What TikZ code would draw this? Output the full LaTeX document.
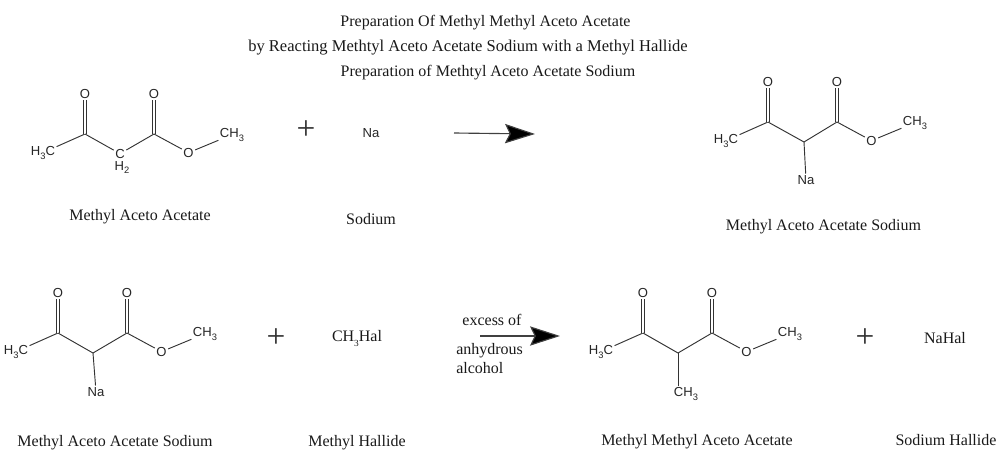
\documentclass[tikz,border=0pt]{standalone}
\usepackage{fontspec}
\setmainfont{Liberation Serif}
\newfontfamily\chemfont{Liberation Sans}
\usetikzlibrary{arrows.meta}
\newcommand{\lowsub}[1]{\raisebox{-0.28em}{\fontsize{7}{8}\selectfont #1}}
\tikzset{
  x=0.75pt,y=-0.75pt,
  caption/.style={font=\fontsize{12}{14}\selectfont,inner sep=0pt,text=black!90,yshift=-0.6pt},
  atom/.style={font=\chemfont\fontsize{9.8}{11}\selectfont,inner sep=1pt,text=black!85,yshift=-0.5pt},
  bond/.style={line width=0.7pt,draw=black!80},
  dbond/.style={line width=0.55pt,draw=black!80,double=white,double distance=1.5pt},
  plussign/.style={font=\fontsize{25}{27}\selectfont,inner sep=0pt,text=black!80,yshift=-1.2pt},
  reaction/.style={line width=0.85pt,draw=black!75,-{Stealth[length=22.5pt,width=14.5pt,inset=3.5pt,fill=black]}},
}
% #1 name prefix, #2 x shift, #3 y shift
\newcommand{\ketoester}[3]{%
  \begin{scope}[shift={(#2,#3)}]
    \node[atom] (#1m) at (43,152) {H\lowsub{3}C};
    \coordinate (#1k) at (85,134);
    \node[atom] (#1ok) at (85,93) {O};
    \coordinate (#1e) at (154,134);
    \node[atom] (#1oe) at (154,93) {O};
    \node[atom] (#1os) at (188.5,152) {O};
    \node[atom] (#1me) at (232,134) {CH\lowsub{3}};
  \end{scope}
  \draw[bond] (#1m) -- (#1k);
  \draw[dbond] (#1k) -- (#1ok);
  \draw[dbond] (#1e) -- (#1oe);
  \draw[bond] (#1e) -- (#1os);
  \draw[bond] (#1os) -- (#1me);
}
\begin{document}
\begin{tikzpicture}
\useasboundingbox (0,0) rectangle (1000,475);
\node[caption] (t1) at (485.5,21.5) {Preparation Of Methyl Methyl Aceto Acetate};
\node[caption,font=\fontsize{12.4}{14}\selectfont] (t2) at (468,46.5) {by Reacting Methtyl Aceto Acetate Sodium with a Methyl Hallide};
\node[caption] (t3) at (488,71.5) {Preparation of Methtyl Aceto Acetate Sodium};

% methyl aceto acetate
\ketoester{a}{0}{0}
\node[atom] (ac) at (120,153) {C};
\node[atom] (ah) at (122,167) {H\lowsub{2}};
\draw[bond] (ak) -- (ac);
\draw[bond] (ac) -- (ae);

\node[plussign] (p1) at (306,128) {+};
\node[atom] (na1) at (371,132) {Na};
\coordinate (r1s) at (454,133);
\coordinate (r1e) at (535,134);
\draw[reaction] (r1s) -- (r1e);

% methyl aceto acetate sodium (top)
\ketoester{b}{683}{-12}
\coordinate (bc) at (804,142);
\node[atom] (bna) at (806,179) {Na};
\draw[bond] (bk) -- (bc);
\draw[bond] (bc) -- (be);
\draw[bond] (bc) -- (bna);

\node[caption] (c1) at (140,215.5) {Methyl Aceto Acetate};
\node[caption] (c2) at (371,218.5) {Sodium};
\node[caption] (c3) at (823.5,225.5) {Methyl Aceto Acetate Sodium};

% methyl aceto acetate sodium (bottom)
\ketoester{c}{-27}{199}
\coordinate (cc) at (93,353);
\node[atom] (cna) at (96,391) {Na};
\draw[bond] (ck) -- (cc);
\draw[bond] (cc) -- (ce);
\draw[bond] (cc) -- (cna);

\node[plussign] (p2) at (276,336) {+};
\node[caption] (hal) at (357,337.5) {CH\lowsub{3}Hal};

\node[caption] (x1) at (492,319.5) {excess of};
\node[caption,anchor=west] (x2) at (456,349.5) {anhydrous};
\node[caption,anchor=west] (x3) at (456,367.5) {alcohol};
\coordinate (r2s) at (480,336);
\coordinate (r2e) at (560,336);
\draw[reaction] (r2s) -- (r2e);

% methyl methyl aceto acetate
\ketoester{d}{558}{199}
\coordinate (dc) at (678,353);
\node[atom] (dch) at (686,393) {CH\lowsub{3}};
\coordinate (dt) at (678,386);
\draw[bond] (dk) -- (dc);
\draw[bond] (dc) -- (de);
\draw[bond] (dc) -- (dt);

\node[plussign] (p3) at (865,336) {+};
\node[caption] (nahal) at (945,337.5) {NaHal};

\node[caption] (c4) at (115,441.5) {Methyl Aceto Acetate Sodium};
\node[caption] (c5) at (357,441.5) {Methyl Hallide};
\node[caption] (c6) at (697,440.5) {Methyl Methyl Aceto Acetate};
\node[caption] (c7) at (946,439.5) {Sodium Hallide};
\end{tikzpicture}
\end{document}
